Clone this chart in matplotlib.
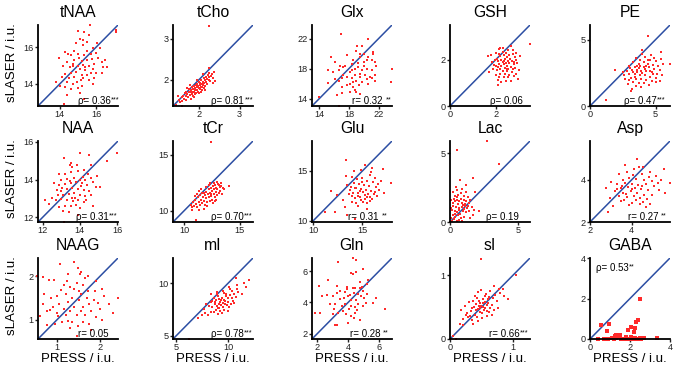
import matplotlib
matplotlib.use("Agg")
import matplotlib.pyplot as plt
from matplotlib.transforms import offset_copy

plt.rcParams['font.family'] = ['Liberation Sans', 'DejaVu Sans']

titles = ["tNAA", "tCho", "Glx", "GSH", "PE",
          "NAA", "tCr", "Glu", "Lac", "Asp",
          "NAAG", "mI", "Gln", "sI", "GABA"]
stat_text = ["ρ= 0.36", "ρ= 0.81", "r= 0.32 ", "ρ= 0.06", "ρ= 0.47",
             "ρ= 0.31", "ρ= 0.70", "r= 0.31 ", "ρ= 0.19", "r= 0.27 ",
             "r= 0.05", "ρ= 0.78", "r= 0.28 ", "r= 0.66", "ρ= 0.53"]
stat_stars = ["***", "***", "**", "", "***",
              "***", "***", "**", "", "**",
              "", "***", "**", "***", "**"]
limits = [(12.8, 17.2), (1.37, 3.33), (13.0, 23.8), (0.0, 3.5), (0.0, 6.1),
          (11.75, 16.05), (9.0, 16.2), (9.9, 18.0), (0.0, 5.9), (2.0, 5.85),
          (0.55, 2.42), (4.7, 12.4), (1.65, 6.85), (0.0, 1.27), (0.0, 4.0)]
ticks = [[14, 16], [2, 3], [14, 18, 22], [0, 2], [0, 5],
         [12, 14, 16], [10, 15], [10, 15], [0, 5], [2, 4],
         [1, 2], [5, 10], [2, 4, 6], [0, 1], [0, 2, 4]]

tNAA = [(13.95,15.4),(15.0,16.85),(15.65,17.2),(17.1,16.95),(17.1,16.8),(16.05,16.2),(15.6,16.65),(15.35,16.8),(15.1,16.45),(15.5,16.3),(14.9,16.2),(15.25,16.1),(15.85,15.95),(16.2,15.95),(14.3,15.75),(14.6,15.55),(15.0,15.6),(15.35,15.55),(15.7,15.6),(16.0,15.7),(16.1,15.4),(15.5,15.3),(15.2,15.25),(14.8,15.3),(14.4,15.2),(14.7,15.0),(15.0,15.0),(15.3,15.05),(15.6,15.0),(15.9,15.1),(16.3,15.2),(16.5,15.3),(16.4,14.9),(15.8,14.8),(15.4,14.75),(15.1,14.8),(14.9,14.65),(14.6,14.6),(14.3,14.55),(14.1,14.4),(14.5,14.3),(14.8,14.35),(15.2,14.5),(15.5,14.5),(15.7,14.6),(16.0,14.6),(15.9,14.3),(15.6,14.2),(15.3,14.3),(14.95,14.1),(14.7,14.0),(14.4,14.1),(14.3,13.85),(14.6,13.75),(15.0,13.8),(15.2,13.9),(14.0,13.9),(14.4,13.4),(15.1,13.5),(15.35,13.2),(14.25,12.9),(15.4,14.9),(15.05,15.4),(14.8,15.8),(15.5,15.8),(14.2,15.0),(13.8,14.1),(16.6,14.9),(16.3,14.6),(15.75,15.35),(15.25,16.4),(14.55,14.9),(15.15,14.2),(15.85,14.0),(14.75,15.1),(14.45,15.6)]
tCho = [(1.45,1.40),(1.52,1.52),(1.55,1.47),(1.58,1.58),(1.6,1.5),(1.62,1.62),(1.65,1.55),(1.66,1.68),(1.68,1.6),(1.7,1.52),(1.7,1.72),(1.72,1.65),(1.74,1.58),(1.75,1.7),(1.76,1.78),(1.78,1.63),(1.8,1.7),(1.8,1.55),(1.82,1.75),(1.83,1.82),(1.84,1.66),(1.85,1.72),(1.86,1.6),(1.87,1.78),(1.88,1.85),(1.89,1.7),(1.9,1.65),(1.9,1.8),(1.92,1.75),(1.93,1.88),(1.94,1.68),(1.95,1.82),(1.96,1.76),(1.97,1.9),(1.98,1.72),(1.99,1.85),(2.0,1.8),(2.0,1.95),(2.01,1.68),(2.02,1.88),(2.03,1.78),(2.04,1.92),(2.05,1.84),(2.06,2.0),(2.07,1.75),(2.08,1.9),(2.09,1.82),(2.1,1.96),(2.11,1.88),(2.12,2.05),(2.13,1.8),(2.14,1.93),(2.15,2.0),(2.16,1.86),(2.18,2.08),(2.19,1.95),(2.2,2.02),(2.21,1.9),(2.22,2.12),(2.24,2.0),(2.25,2.18),(2.26,2.06),(2.28,1.97),(2.3,2.1),(2.32,2.15),(2.35,2.05),(2.38,2.2),(2.26,2.29),(2.1,2.15),(1.95,2.0),(1.78,1.88),(1.72,1.8),(2.05,1.7),(2.15,1.75),(1.88,1.58),(2.24,3.3),(1.6,1.38),(1.5,1.6),(2.4,1.98),(2.36,1.92)]
Glx = [(16.9,22.6),(20.5,22.0),(19.7,21.0),(19.0,20.4),(21.2,20.2),(21.2,19.9),(20.0,19.9),(20.6,19.6),(19.5,19.5),(17.7,19.8),(15.6,19.6),(16.1,18.9),(18.6,19.2),(20.0,18.9),(21.1,19.1),(21.7,18.4),(23.8,18.0),(15.1,17.8),(15.9,17.6),(16.6,17.8),(17.2,17.2),(18.1,17.6),(18.8,18.0),(19.2,18.2),(19.7,17.8),(20.4,18.0),(21.1,17.8),(21.5,17.1),(20.8,16.9),(20.1,17.1),(19.5,16.9),(18.8,17.1),(18.4,16.7),(17.7,16.9),(17.0,16.8),(16.6,16.4),(16.1,16.6),(15.1,16.1),(18.5,16.2),(19.0,16.4),(19.7,16.2),(20.6,16.0),(19.3,15.8),(18.6,15.6),(17.7,15.8),(17.0,15.6),(16.4,14.5),(17.0,14.7),(18.1,14.9),(19.0,14.9),(19.5,14.6),(14.0,14.2),(16.6,13.0),(23.7,16.2),(17.5,18.4),(18.4,18.6),(19.2,18.7),(20.0,18.4),(20.4,19.1),(18.4,17.8),(19.5,17.3),(20.4,16.6),(21.1,16.7),(21.5,16.4),(18.1,16.0),(18.8,15.2),(17.2,18.2),(16.8,18.4),(21.5,18.9),(19.5,20.0),(19.1,21.0)]
GSH = [(2.2,2.5),(2.13,2.45),(2.68,2.58),(3.49,2.68),(1.65,2.14),(3.07,2.17),(2.9,2.0),(1.94,1.78),(1.72,1.49),(2.09,1.13),(2.09,0.91),(2.68,1.06),(2.97,1.16),(2.53,0.0),(2.0,2.3),(2.3,2.35),(2.45,2.3),(2.55,2.4),(2.35,2.2),(2.2,2.15),(2.05,2.05),(2.6,2.2),(2.75,2.25),(2.85,2.1),(2.5,2.1),(2.4,2.05),(2.25,2.0),(2.1,1.95),(1.95,2.0),(1.85,1.9),(2.3,1.92),(2.55,1.95),(2.7,1.95),(2.95,1.85),(2.8,1.8),(2.6,1.85),(2.45,1.85),(2.35,1.8),(2.15,1.82),(2.0,1.75),(2.25,1.72),(2.5,1.75),(2.65,1.7),(2.85,1.65),(3.0,1.55),(2.75,1.6),(2.55,1.6),(2.4,1.65),(2.2,1.6),(2.05,1.55),(1.9,1.6),(2.3,1.5),(2.5,1.5),(2.7,1.45),(2.9,1.4),(2.6,1.35),(2.4,1.38),(2.2,1.4),(2.0,1.35),(2.35,1.25),(2.55,1.25),(2.8,1.28),(2.15,1.25),(2.45,1.1),(2.25,1.05),(2.75,2.4),(2.3,2.5),(2.1,1.7),(2.62,2.05),(2.38,1.95),(2.78,1.9),(2.9,2.3),(1.8,2.2),(2.48,1.62),(2.15,2.25)]
PE = [(4.4,5.3),(1.9,2.7),(1.2,0.45),(6.1,3.2),(5.4,4.1),(4.0,4.2),(3.1,1.1),(5.0,1.8),(5.3,1.9),(3.5,3.6),(3.8,3.5),(4.2,3.7),(4.6,3.5),(5.0,3.4),(3.3,3.3),(3.7,3.2),(4.1,3.3),(4.4,3.2),(4.8,3.1),(5.2,3.0),(5.6,3.2),(3.0,3.0),(3.4,2.9),(3.8,3.0),(4.1,2.95),(4.5,2.9),(4.9,2.8),(5.3,2.7),(2.8,2.6),(3.2,2.7),(3.6,2.7),(3.9,2.65),(4.3,2.6),(4.7,2.55),(5.1,2.4),(2.6,2.3),(3.0,2.4),(3.4,2.4),(3.8,2.35),(4.2,2.3),(4.6,2.2),(5.0,2.1),(2.7,2.0),(3.1,2.1),(3.5,2.05),(3.9,2.0),(4.3,1.95),(4.7,1.9),(3.3,1.8),(3.7,1.75),(4.1,1.7),(2.9,1.65),(3.5,1.5),(3.9,1.4),(4.5,1.55),(3.2,1.3),(4.2,2.8),(3.6,3.0),(4.0,2.5),(3.4,2.2),(4.8,2.4),(4.4,3.5),(5.5,2.3),(2.5,2.55),(3.75,2.85),(4.25,3.05),(3.05,2.85),(4.65,3.85),(3.95,3.9),(3.55,2.55),(4.9,3.6),(5.45,3.55),(2.95,1.95),(3.25,2.55),(4.55,2.65)]
NAA = [(13.13,15.15),(14.0,15.4),(14.5,15.3),(16.0,15.4),(15.44,14.97),(14.6,14.8),(13.48,14.8),(13.6,14.65),(12.87,14.3),(12.6,13.8),(12.1,12.9),(12.35,12.7),(13.1,12.36),(13.9,12.1),(13.13,11.73),(14.43,14.3),(14.87,13.6),(14.6,13.17),(14.35,12.9),(13.2,14.3),(13.5,14.4),(13.9,14.45),(14.2,14.5),(13.0,14.0),(13.3,14.05),(13.7,14.1),(14.0,14.0),(14.3,14.0),(14.6,14.1),(12.9,13.7),(13.2,13.75),(13.5,13.8),(13.8,13.85),(14.1,13.8),(14.4,13.7),(14.7,13.85),(13.0,13.4),(13.3,13.5),(13.6,13.55),(13.9,13.5),(14.2,13.45),(14.5,13.4),(12.8,13.2),(13.1,13.2),(13.4,13.25),(13.7,13.3),(14.0,13.2),(14.3,13.15),(12.7,12.9),(13.0,12.95),(13.3,12.9),(13.6,13.0),(13.9,12.9),(14.2,12.8),(13.2,12.6),(13.5,12.6),(13.8,12.65),(12.9,12.55),(13.4,12.3),(14.0,12.5),(14.9,14.2),(15.1,13.6),(13.55,14.9),(13.75,13.05),(13.45,13.95),(12.5,13.0),(14.7,12.6),(13.85,14.75),(14.15,14.15),(13.05,13.55),(13.65,12.85),(14.05,13.65),(12.75,13.45)]
tCr = [(12.4,16.1),(11.05,9.2),(10.75,10.3),(13.1,12.3),(13.3,12.47),(14.0,12.2),(13.6,11.9),(11.35,11.75),(10.6,10.5),(10.8,10.8),(10.9,10.4),(11.0,11.0),(11.1,10.6),(11.2,10.3),(11.25,11.2),(11.3,10.8),(11.4,10.5),(11.45,11.4),(11.5,11.0),(11.6,10.7),(11.65,11.6),(11.7,11.2),(11.8,10.9),(11.85,10.5),(11.9,11.4),(12.0,11.1),(12.0,11.7),(12.1,10.8),(12.15,11.5),(12.2,11.9),(12.25,11.2),(12.3,10.9),(12.35,11.6),(12.4,12.0),(12.45,11.3),(12.5,11.8),(12.55,11.0),(12.6,12.2),(12.65,11.5),(12.7,11.9),(12.75,11.2),(12.8,12.3),(12.85,11.7),(12.9,12.0),(12.95,11.4),(13.0,11.9),(13.05,12.4),(13.1,11.6),(13.2,12.1),(13.25,11.8),(13.35,12.2),(13.4,11.5),(13.5,12.0),(11.55,11.9),(11.95,12.1),(12.2,12.3),(11.75,10.2),(12.05,10.4),(12.6,10.7),(10.95,11.3),(11.35,10.1),(12.4,11.45),(12.7,12.5),(12.9,11.0),(11.8,11.6),(12.3,12.5),(13.0,12.6),(11.15,11.5),(10.7,10.1),(12.8,10.9)]
Glu = [(13.33,16.1),(15.27,15.6),(16.0,15.27),(17.04,15.2),(14.18,15.0),(14.9,15.1),(13.3,14.53),(15.8,14.6),(16.3,14.27),(17.9,13.83),(11.87,13.0),(12.48,12.6),(13.4,13.6),(13.74,13.1),(14.25,13.27),(14.6,12.77),(15.27,12.6),(15.8,12.43),(16.3,12.93),(17.14,12.77),(14.9,12.1),(13.9,11.93),(13.23,11.43),(14.4,11.77),(15.44,11.77),(12.2,10.93),(11.2,10.93),(13.4,10.6),(15.44,11.2),(14.25,10.2),(14.5,14.2),(15.0,14.3),(15.5,14.0),(16.1,13.9),(16.6,13.7),(14.2,13.8),(14.7,13.7),(15.2,13.6),(15.7,13.5),(16.4,13.4),(13.8,13.4),(14.4,13.3),(14.9,13.2),(15.4,13.1),(15.9,13.0),(16.7,13.1),(13.6,12.7),(14.1,12.8),(14.6,12.5),(15.1,12.9),(15.6,12.7),(16.0,12.2),(14.3,12.3),(14.8,12.4),(15.3,12.2),(15.8,12.0),(16.5,12.5),(13.9,12.5),(15.1,11.9),(14.0,14.4),(15.9,14.9),(16.9,14.0),(14.6,11.5),(15.0,13.9),(13.0,12.1),(16.2,12.7),(15.5,12.45),(14.75,13.0)]
Lac = [(2.73,5.9),(0.54,5.25),(3.63,4.19),(1.68,3.2),(0.71,3.08),(0.41,2.54),(0.5,2.3),(1.15,2.66),(1.88,2.17),(2.17,0.81),(0.0,0.0),(0.1,1.6),(0.2,1.4),(0.3,1.7),(0.4,1.5),(0.5,1.6),(0.6,1.3),(0.7,1.5),(0.8,1.7),(0.9,1.4),(1.0,1.6),(1.1,1.3),(1.2,1.5),(1.3,1.2),(1.4,1.4),(1.5,1.6),(0.25,1.2),(0.45,1.1),(0.65,0.9),(0.85,1.1),(1.05,0.95),(1.25,1.0),(0.15,0.9),(0.35,0.8),(0.55,0.7),(0.75,0.6),(0.95,0.8),(1.15,0.7),(0.2,0.5),(0.4,0.4),(0.6,0.5),(0.8,0.3),(1.0,0.4),(0.3,0.2),(0.5,0.1),(0.7,0.15),(0.9,0.05),(0.1,0.3),(0.6,2.0),(0.8,2.1),(1.0,1.9),(0.4,1.9),(1.3,1.8),(1.6,1.1),(1.8,0.9),(1.7,0.5),(1.5,0.3),(0.2,2.2),(0.9,2.4),(1.2,2.2),(0.55,1.8),(1.4,0.8),(0.7,1.0),(0.35,0.55),(1.1,1.15),(0.05,1.0),(0.95,1.25),(0.15,0.1)]
Asp = [(4.28,5.0),(4.57,4.6),(3.67,4.7),(5.54,4.5),(5.87,3.85),(2.78,3.6),(2.94,3.15),(3.1,2.77),(2.86,2.46),(3.5,3.0),(4.0,2.92),(4.4,2.85),(4.9,2.85),(5.3,3.54),(3.4,4.3),(3.8,4.4),(4.1,4.5),(4.5,4.3),(4.9,4.4),(5.2,4.2),(3.6,4.0),(3.9,4.1),(4.2,4.05),(4.6,4.0),(5.0,3.95),(5.4,4.0),(3.3,3.8),(3.7,3.85),(4.0,3.8),(4.3,3.75),(4.7,3.8),(5.1,3.7),(3.5,3.6),(3.85,3.65),(4.15,3.6),(4.45,3.55),(4.8,3.5),(3.2,3.45),(3.6,3.4),(3.95,3.45),(4.25,3.4),(4.6,3.3),(5.0,3.3),(3.4,3.25),(3.8,3.2),(4.1,3.25),(4.4,3.15),(4.75,3.1),(3.65,3.05),(4.2,3.05),(4.55,2.95),(3.9,2.8),(4.7,2.7),(3.3,3.55),(4.05,4.25),(4.35,4.6),(5.6,3.4),(3.0,3.9),(4.85,4.15),(3.75,3.35),(4.5,3.7),(4.0,3.55),(3.55,3.7),(5.25,3.85)]
NAAG = [(1.06,2.27),(1.38,2.32),(0.53,2.0),(0.66,1.98),(0.81,1.92),(0.92,1.92),(1.22,1.88),(1.49,2.19),(1.53,2.04),(1.65,1.96),(1.73,2.0),(1.45,1.85),(1.09,1.69),(1.73,1.65),(1.88,1.65),(2.04,1.71),(2.43,1.5),(1.96,1.38),(0.66,1.35),(0.83,1.23),(1.02,1.08),(0.75,0.88),(0.59,1.08),(1.26,0.96),(1.49,0.86),(1.45,0.62),(1.3,1.75),(1.6,1.8),(1.4,1.7),(1.55,1.6),(1.2,1.6),(1.0,1.55),(0.85,1.5),(1.35,1.5),(1.7,1.5),(1.85,1.45),(2.1,1.55),(1.25,1.4),(1.5,1.45),(1.05,1.35),(0.9,1.3),(1.6,1.3),(1.75,1.35),(1.4,1.3),(1.15,1.25),(1.3,1.2),(1.55,1.2),(1.8,1.2),(2.0,1.25),(1.0,1.15),(1.2,1.1),(1.45,1.1),(1.65,1.1),(1.9,1.05),(1.1,0.95),(1.35,0.95),(1.6,0.95),(0.95,0.9),(1.75,0.9),(1.3,0.8),(2.2,1.35),(2.3,1.15),(1.5,1.65),(0.7,1.6),(1.15,1.8),(1.9,1.9),(1.8,0.75),(1.55,2.1),(0.75,1.2),(1.25,2.05),(2.05,1.0)]
mI = [(10.76,10.48),(12.0,10.3),(10.9,9.8),(11.7,9.6),(10.2,9.45),(9.6,9.1),(10.0,8.6),(10.5,8.3),(9.7,8.0),(9.1,8.5),(8.33,8.97),(8.94,9.13),(7.88,8.0),(7.12,6.71),(7.67,7.58),(8.48,8.32),(9.1,7.68),(9.55,8.16),(8.33,7.26),(6.2,4.68),(8.6,8.6),(8.8,8.4),(9.0,8.8),(9.2,8.2),(9.4,8.6),(9.6,8.4),(9.8,8.8),(10.0,8.2),(10.2,8.9),(10.4,8.6),(10.6,9.0),(10.8,8.7),(11.0,9.2),(8.7,8.0),(8.9,7.8),(9.1,8.0),(9.3,7.9),(9.5,7.7),(9.7,8.3),(9.9,7.9),(10.1,7.7),(10.3,8.0),(8.5,7.7),(8.8,7.5),(9.2,7.4),(9.6,7.5),(10.0,7.4),(8.2,7.8),(8.6,7.3),(9.0,7.1),(9.4,7.2),(7.8,7.2),(8.1,7.0),(9.8,9.0),(10.4,9.3),(11.3,9.0),(8.9,9.0),(9.5,9.3),(10.1,9.6),(11.5,10.0),(8.4,8.2),(7.5,7.0),(10.6,8.1),(9.35,8.45),(10.85,9.45),(9.05,7.65),(8.75,8.2)]
Gln = [(4.32,6.84),(4.5,6.7),(3.35,6.58),(4.97,6.15),(4.3,5.8),(4.2,5.9),(4.5,5.95),(2.7,5.46),(5.29,5.46),(5.2,5.2),(2.1,5.03),(3.25,5.07),(3.9,4.85),(4.45,4.95),(4.75,4.9),(3.46,4.75),(3.78,4.68),(4.1,4.5),(4.38,4.6),(4.65,4.55),(4.97,4.75),(5.2,4.55),(2.6,4.47),(2.28,4.38),(3.03,4.38),(5.83,4.31),(5.6,3.99),(6.37,3.6),(3.99,4.38),(4.2,4.15),(4.52,4.15),(4.85,4.38),(3.14,3.88),(3.57,3.77),(3.78,3.88),(4.2,3.77),(4.65,3.88),(4.97,3.77),(5.18,3.99),(2.17,3.3),(1.85,3.3),(3.03,3.23),(3.35,3.34),(3.67,3.45),(3.89,3.23),(4.2,3.12),(4.42,3.34),(3.14,2.58),(3.25,2.52),(4.0,2.69),(4.39,3.02),(4.75,2.9),(3.5,4.2),(4.9,5.0),(3.7,4.3),(4.05,3.55),(4.6,3.5),(3.3,4.6),(5.0,4.3),(2.8,3.9),(4.3,4.9),(3.95,5.0),(4.8,5.3),(3.1,3.6),(4.45,3.7)]
sI = [(0.49,1.26),(1.05,1.0),(0.7,0.83),(0.77,0.79),(0.84,0.78),(0.64,0.76),(0.56,0.67),(0.45,0.73),(0.43,0.65),(0.37,0.59),(0.53,0.57),(0.61,0.62),(0.67,0.54),(0.48,0.49),(0.35,0.49),(0.27,0.41),(0.32,0.36),(0.4,0.38),(0.51,0.41),(0.56,0.49),(0.64,0.49),(0.21,0.31),(0.16,0.24),(0.05,0.04),(0.1,0.0),(0.59,0.36),(0.45,0.28),(0.37,0.24),(0.76,0.49),(0.67,0.37),(0.51,0.33),(0.24,0.52),(0.42,0.55),(0.46,0.6),(0.5,0.52),(0.55,0.58),(0.58,0.54),(0.48,0.56),(0.44,0.47),(0.52,0.62),(0.6,0.56),(0.38,0.5),(0.33,0.44),(0.29,0.35),(0.41,0.45),(0.47,0.42),(0.54,0.45),(0.62,0.66),(0.72,0.69),(0.8,0.72),(0.74,0.6),(0.69,0.64),(0.57,0.7),(0.5,0.77),(0.4,0.68),(0.3,0.58),(0.25,0.38),(0.35,0.3),(0.43,0.35),(0.58,0.44),(0.86,0.68),(0.92,0.63),(0.62,0.42),(0.2,0.22),(0.46,0.52),(0.53,0.5),(0.7,0.46),(0.18,0.45)]
GABA = [(2.49,1.97),(0.55,0.67),(0.97,0.73),(0.84,0.39),(2.07,0.59),(2.4,0.96),(2.32,0.84),(2.24,0.56),(1.9,0.42),(2.2,0.35),(1.5,0.2),(1.3,0.22),(1.23,0.17),(0.39,0.0),(0.72,0.0),(1.22,0.0),(1.3,0.05),(1.55,0.02),(1.65,0.0),(1.8,0.08),(1.95,0.0),(2.03,0.05),(2.13,0.0),(2.25,0.07),(2.35,0.0),(2.57,0.0),(2.5,0.05),(3.33,0.05),(1.4,0.1),(1.75,0.0),(2.05,0.12),(0.9,0.02),(1.1,0.05),(2.7,0.03)]

series = [tNAA, tCho, Glx, GSH, PE, NAA, tCr, Glu, Lac, Asp, NAAG, mI, Gln, sI, GABA]

W, H = 673, 367
fig = plt.figure(figsize=(W / 100, H / 100), dpi=100)
renderer = fig.canvas.get_renderer()

col_left = [38, 173, 312, 450, 590]
row_top = [25, 141, 258]
aw, ah = 80, 81
red = '#ff2a2a'
blue = '#2c4ea3'
stat_x = [0.5, 0.48, 0.5, 0.5, 0.42,
          0.47, 0.47, 0.45, 0.45, 0.47,
          0.5, 0.47, 0.47, 0.49, 0.07]

for i, name in enumerate(titles):
    r, c = divmod(i, 5)
    ax = fig.add_axes([col_left[c] / W, (H - row_top[r] - ah) / H, aw / W, ah / H])
    lo, hi = limits[i]
    pts = series[i]
    xs = [p[0] for p in pts]
    ys = [p[1] for p in pts]
    ax.plot([lo, hi], [lo, hi], color=blue, lw=1.1, zorder=2)
    ms = 2.2 if name == "GABA" else 1.6
    ax.plot(xs, ys, 's', ms=ms, mew=0, color=red, zorder=3, clip_on=False)
    ax.set_xlim(lo, hi)
    ax.set_ylim(lo, hi)
    ax.set_xticks(ticks[i])
    ax.set_yticks(ticks[i])
    ax.set_xticklabels([str(t) for t in ticks[i]])
    ax.set_yticklabels([str(t) for t in ticks[i]])
    for s in ['top', 'right']:
        ax.spines[s].set_visible(False)
    for s in ['left', 'bottom']:
        ax.spines[s].set_linewidth(1.3)
        ax.spines[s].set_zorder(4)
    ax.tick_params(direction='out', length=2, width=1, labelsize=6.6, pad=1.2, colors='#222222')
    ax.tick_params(axis='x', pad=0.6)
    ax.set_title(name, fontsize=11.3, pad=6)
    if name == "GABA":
        t = ax.text(stat_x[i], 0.84, stat_text[i], transform=ax.transAxes, fontsize=7,
                    ha='left', va='baseline', zorder=5)
    else:
        t = ax.text(stat_x[i], 0.02, stat_text[i], transform=ax.transAxes, fontsize=7,
                    ha='left', va='baseline', zorder=5, clip_on=False)
    if stat_stars[i]:
        bb = t.get_window_extent(renderer)
        inv = ax.transAxes.inverted()
        x_end = inv.transform((bb.x1, bb.y0))[0]
        y0 = t.get_position()[1]
        ax.text(x_end, y0, stat_stars[i],
                transform=offset_copy(ax.transAxes, fig=fig, x=0.2, y=1.8, units='points'),
                fontsize=5.2, ha='left', va='baseline', zorder=5, clip_on=False)
    if c == 0:
        fig.text(12 / W, 1 - (row_top[r] + ah / 2 - 3) / H, "sLASER / i.u.",
                 rotation=90, ha='center', va='center', fontsize=9.5)
    if r == 2:
        fig.text((col_left[c] + aw / 2) / W, 1 - 361.5 / H, "PRESS / i.u.",
                 ha='center', va='baseline', fontsize=9.5)

fig.savefig("out.png", dpi=100)
